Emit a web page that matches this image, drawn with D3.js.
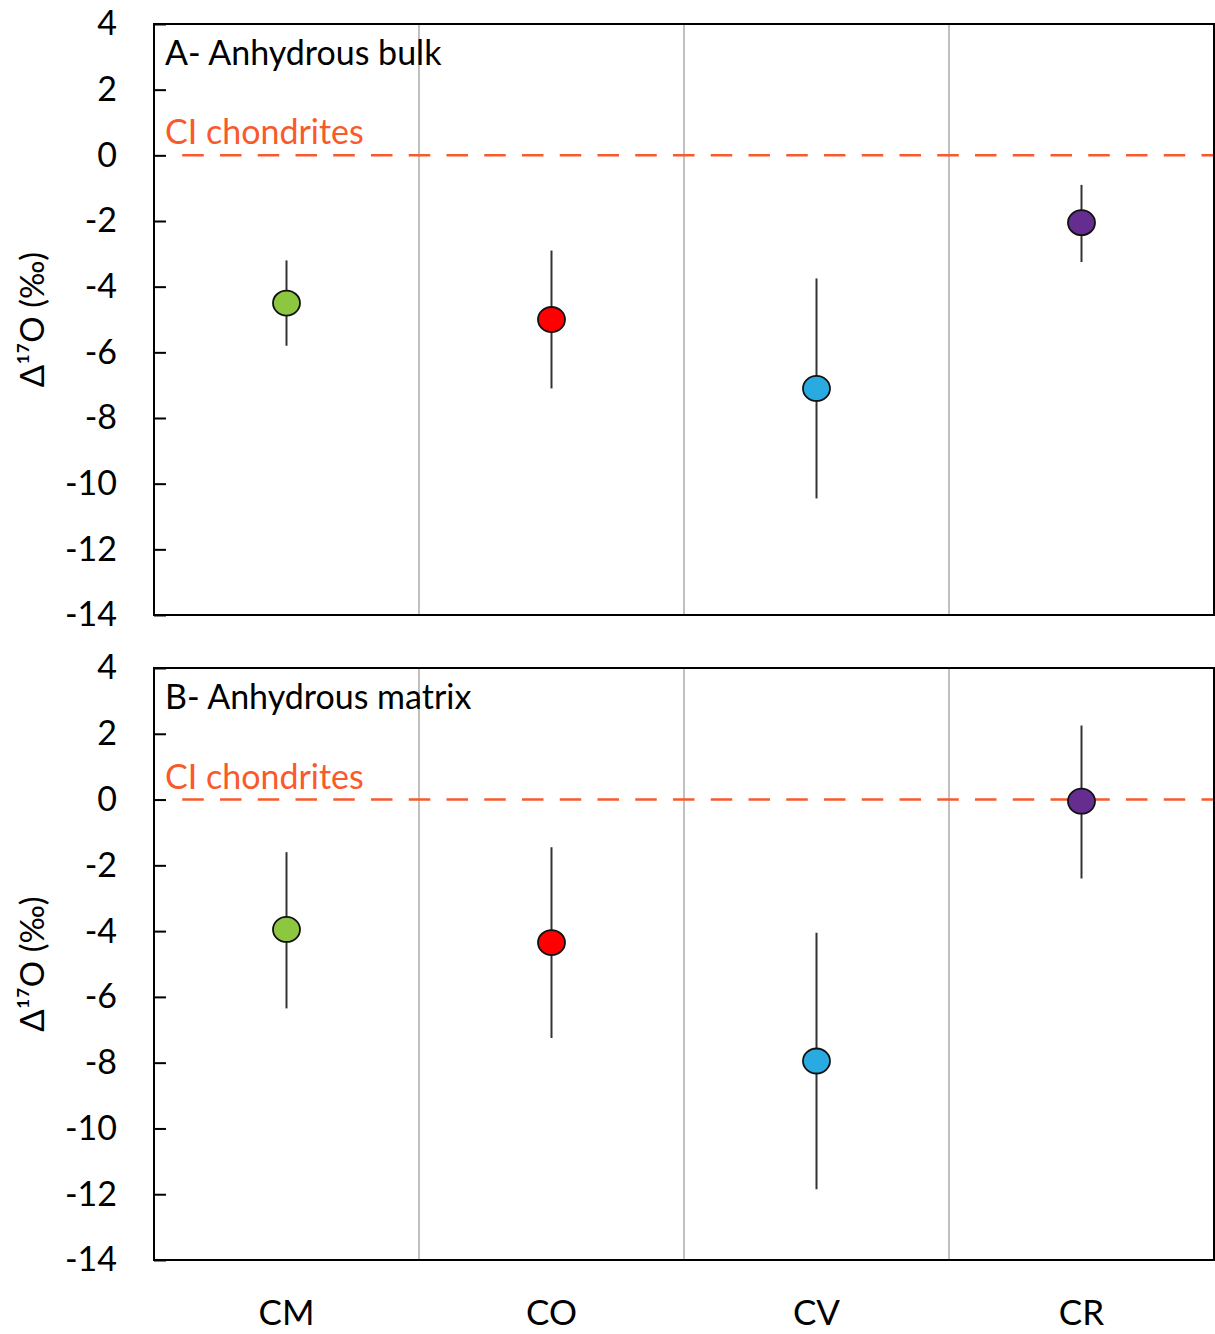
<!DOCTYPE html>
<html>
<head>
<meta charset="utf-8">
<script src="https://cdn.jsdelivr.net/npm/d3@7"></script>
<style>
  html, body { margin: 0; padding: 0; background: #fff; }
  svg { display: block; }
  text { font-family: Lato, "Open Sans", sans-serif; }
</style>
</head>
<body>
<svg id="chart" width="1215" height="1334"></svg>
<script>
const categories = ["CM", "CO", "CV", "CR"];
const colors = ["#8DC63F", "#FF0000", "#29ABE2", "#662D91"];
const bulkMean = [-4.5, -5.0, -7.1, -2.05];
const bulkLow = [-5.8, -7.1, -10.45, -3.25];
const bulkHigh = [-3.2, -2.9, -3.75, -0.9];
const matrixMean = [-3.95, -4.35, -7.95, -0.05];
const matrixLow = [-6.35, -7.25, -11.85, -2.4];
const matrixHigh = [-1.6, -1.45, -4.05, 2.25];
const yTicks = [4, 2, 0, -2, -4, -6, -8, -10, -12, -14];
const ciValue = 0;
const panelTitles = ["A- Anhydrous bulk", "B- Anhydrous matrix"];
const ciLabel = "CI chondrites";
const yTitle = "Δ¹⁷O (‰)";

const svg = d3.select("#chart");
const left = 154, right = 1214;
const panels = [
  { top: 24, bottom: 615, title: panelTitles[0], mean: bulkMean, low: bulkLow, high: bulkHigh },
  { top: 668, bottom: 1260, title: panelTitles[1], mean: matrixMean, low: matrixLow, high: matrixHigh }
];
const x = d3.scaleBand().domain(categories).range([left, right]).padding(0);
const cx = c => x(c) + x.bandwidth() / 2;
const orange = "#F95A2C";

panels.forEach((p, pi) => {
  const y = d3.scaleLinear().domain([-14, 4]).range([p.bottom, p.top]);
  const g = svg.append("g");

  // vertical category dividers
  g.selectAll(".div").data(categories.slice(1)).enter().append("line")
    .attr("x1", d => x(d)).attr("x2", d => x(d))
    .attr("y1", p.top).attr("y2", p.bottom)
    .attr("stroke", "#ababab").attr("stroke-width", 1.5);

  // CI dashed line
  g.append("line")
    .attr("x1", left + 12).attr("x2", right)
    .attr("y1", y(ciValue)).attr("y2", y(ciValue))
    .attr("stroke", orange).attr("stroke-width", 2.5)
    .attr("stroke-dasharray", "21.5,16.25")
    .attr("stroke-dashoffset", 21.5);

  g.append("text").attr("x", 165).attr("y", y(ciValue) - 11)
    .attr("fill", orange).attr("font-size", 34).text(ciLabel);

  g.append("text").attr("x", 165).attr("y", p.top + 41)
    .attr("fill", "#000").attr("font-size", 34).text(p.title);

  // error bars
  g.selectAll(".err").data(categories).enter().append("line")
    .attr("x1", d => cx(d)).attr("x2", d => cx(d))
    .attr("y1", (d, i) => y(p.high[i])).attr("y2", (d, i) => y(p.low[i]))
    .attr("stroke", "#333").attr("stroke-width", 2);

  // markers
  g.selectAll(".pt").data(categories).enter().append("ellipse")
    .attr("cx", d => cx(d)).attr("cy", (d, i) => y(p.mean[i]))
    .attr("rx", 13.5).attr("ry", 12.5)
    .attr("fill", (d, i) => colors[i])
    .attr("stroke", "#111").attr("stroke-width", 1.8);

  // frame
  g.append("rect").attr("x", left).attr("y", p.top)
    .attr("width", right - left).attr("height", p.bottom - p.top)
    .attr("fill", "none").attr("stroke", "#000").attr("stroke-width", 2);

  // y axis
  const ax = g.append("g").attr("transform", `translate(${left},0)`)
    .call(d3.axisLeft(y).tickValues(yTicks).tickSize(-12).tickPadding(37)
      .tickFormat(d => (d < 0 ? "-" : "") + Math.abs(d)));
  ax.select(".domain").remove();
  ax.selectAll(".tick line").attr("stroke", "#000").attr("stroke-width", 2);
  ax.selectAll(".tick text").attr("font-size", 34).attr("fill", "#000")
    .attr("font-family", "Lato, 'Open Sans', sans-serif");

  // y title
  g.append("text")
    .attr("transform", `translate(44,${(p.top + p.bottom) / 2}) rotate(-90)`)
    .attr("text-anchor", "middle").attr("font-size", 33).attr("fill", "#000")
    .text(yTitle);
});

// x labels
svg.selectAll(".xl").data(categories).enter().append("text")
  .attr("x", d => cx(d)).attr("y", 1325)
  .attr("text-anchor", "middle").attr("font-size", 35).attr("fill", "#000")
  .text(d => d);
</script>
</body>
</html>
